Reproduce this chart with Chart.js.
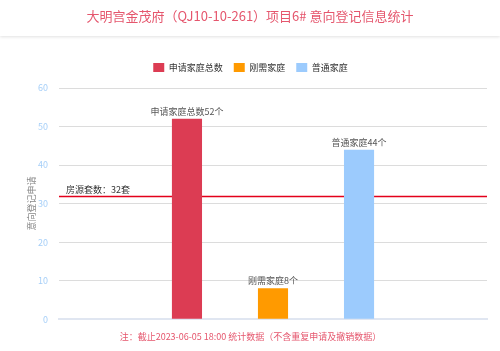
<!DOCTYPE html>
<html>
<head>
<meta charset="utf-8">
<script src="https://cdn.jsdelivr.net/npm/chart.js@4/dist/chart.umd.min.js"></script>
<style>
  html, body { margin: 0; padding: 0; background: #fff; }
  body { width: 500px; height: 351px; overflow: hidden; font-family: "Noto Sans CJK SC", sans-serif; }
  .header {
    height: 36px; line-height: 31px; text-align: center;
    color: #e5566d; font-size: 13px;
    box-shadow: 0 1px 3px rgba(0,0,0,0.12);
    position: relative; z-index: 1;
  }
  .wrap { position: relative; width: 500px; height: 314px; }
</style>
</head>
<body>
<div class="header">大明宫金茂府（QJ10-10-261）项目6# 意向登记信息统计</div>
<div class="wrap"><canvas id="chart"></canvas></div>
<script>
const seriesNames = ['申请家庭总数', '刚需家庭', '普通家庭'];
const seriesValues = [52, 8, 44];
const seriesColors = ['#dc3c53', '#ff9a00', '#9ccbfd'];
const supplyLabel = '房源套数：32套';
const supplyCount = 32;
const yTicks = [0, 10, 20, 30, 40, 50, 60];
const noteText = '注：截止2023-06-05 18:00 统计数据（不含重复申请及撤销数据）';
const font = '"Noto Sans CJK SC", sans-serif';

// red reference line for total units, drawn under the bars
const supplyLine = {
  id: 'supplyLine',
  beforeDatasetsDraw(chart) {
    const { ctx, chartArea, scales } = chart;
    const y = Math.round(scales.y.getPixelForValue(supplyCount)) + 0.5;
    ctx.save();
    ctx.strokeStyle = '#e3001b';
    ctx.lineWidth = 1.5;
    ctx.beginPath();
    ctx.moveTo(chartArea.left, y);
    ctx.lineTo(chartArea.right, y);
    ctx.stroke();
    ctx.fillStyle = '#333';
    ctx.font = '9px ' + font;
    ctx.textBaseline = 'bottom';
    ctx.fillText(supplyLabel, chartArea.left + 7, y - 2);
    ctx.restore();
  }
};

// "name + value 个" label over each bar
const barLabels = {
  id: 'barLabels',
  afterDatasetsDraw(chart) {
    const { ctx } = chart;
    ctx.save();
    ctx.fillStyle = '#555';
    ctx.font = '9px ' + font;
    ctx.textAlign = 'center';
    ctx.textBaseline = 'bottom';
    chart.data.datasets.forEach((ds, i) => {
      const bar = chart.getDatasetMeta(i).data[0];
      ctx.fillText(ds.label + ds.data[0] + '个', bar.x, bar.y - 3);
    });
    ctx.restore();
  }
};

// a little more room under the legend
const legendGap = {
  id: 'legendGap',
  beforeInit(chart) {
    const fit = chart.legend.fit;
    chart.legend.fit = function () {
      fit.bind(chart.legend)();
      this.height += 6;
    };
  }
};

new Chart(document.getElementById('chart'), {
  type: 'bar',
  data: {
    labels: [''],
    datasets: seriesNames.map((name, i) => ({
      label: name,
      data: [seriesValues[i]],
      backgroundColor: seriesColors[i],
      categoryPercentage: 0.603,
      barPercentage: 0.35
    }))
  },
  options: {
    responsive: true,
    maintainAspectRatio: false,
    animation: false,
    layout: { padding: { left: 14, right: 13, top: 16, bottom: 0 } },
    scales: {
      x: {
        grid: { display: false },
        border: { color: '#e0e6f1', width: 2 },
        ticks: { display: false }
      },
      y: {
        min: 0,
        max: 60,
        afterBuildTicks(axis) { axis.ticks = yTicks.map(v => ({ value: v })); },
        afterFit(axis) { axis.width = 45; },
        grid: { color: '#dcdcdc', drawTicks: false },
        border: { display: false },
        ticks: { color: '#a6cff8', font: { size: 9, family: font }, padding: 11 },
        title: { display: true, text: '意向登记申请', color: '#888', font: { size: 9, family: font }, padding: { top: 12, bottom: 0 } }
      }
    },
    plugins: {
      legend: {
        position: 'top',
        labels: { boxWidth: 11, boxHeight: 9, color: '#333', font: { size: 9, family: font }, padding: 11 }
      },
      subtitle: {
        display: true,
        position: 'bottom',
        text: noteText,
        color: '#e5566d',
        font: { size: 9, family: font, weight: 'normal' },
        padding: { top: 4, bottom: 8 }
      },
      tooltip: { enabled: false }
    }
  },
  plugins: [supplyLine, barLabels, legendGap]
});
</script>
</body>
</html>
